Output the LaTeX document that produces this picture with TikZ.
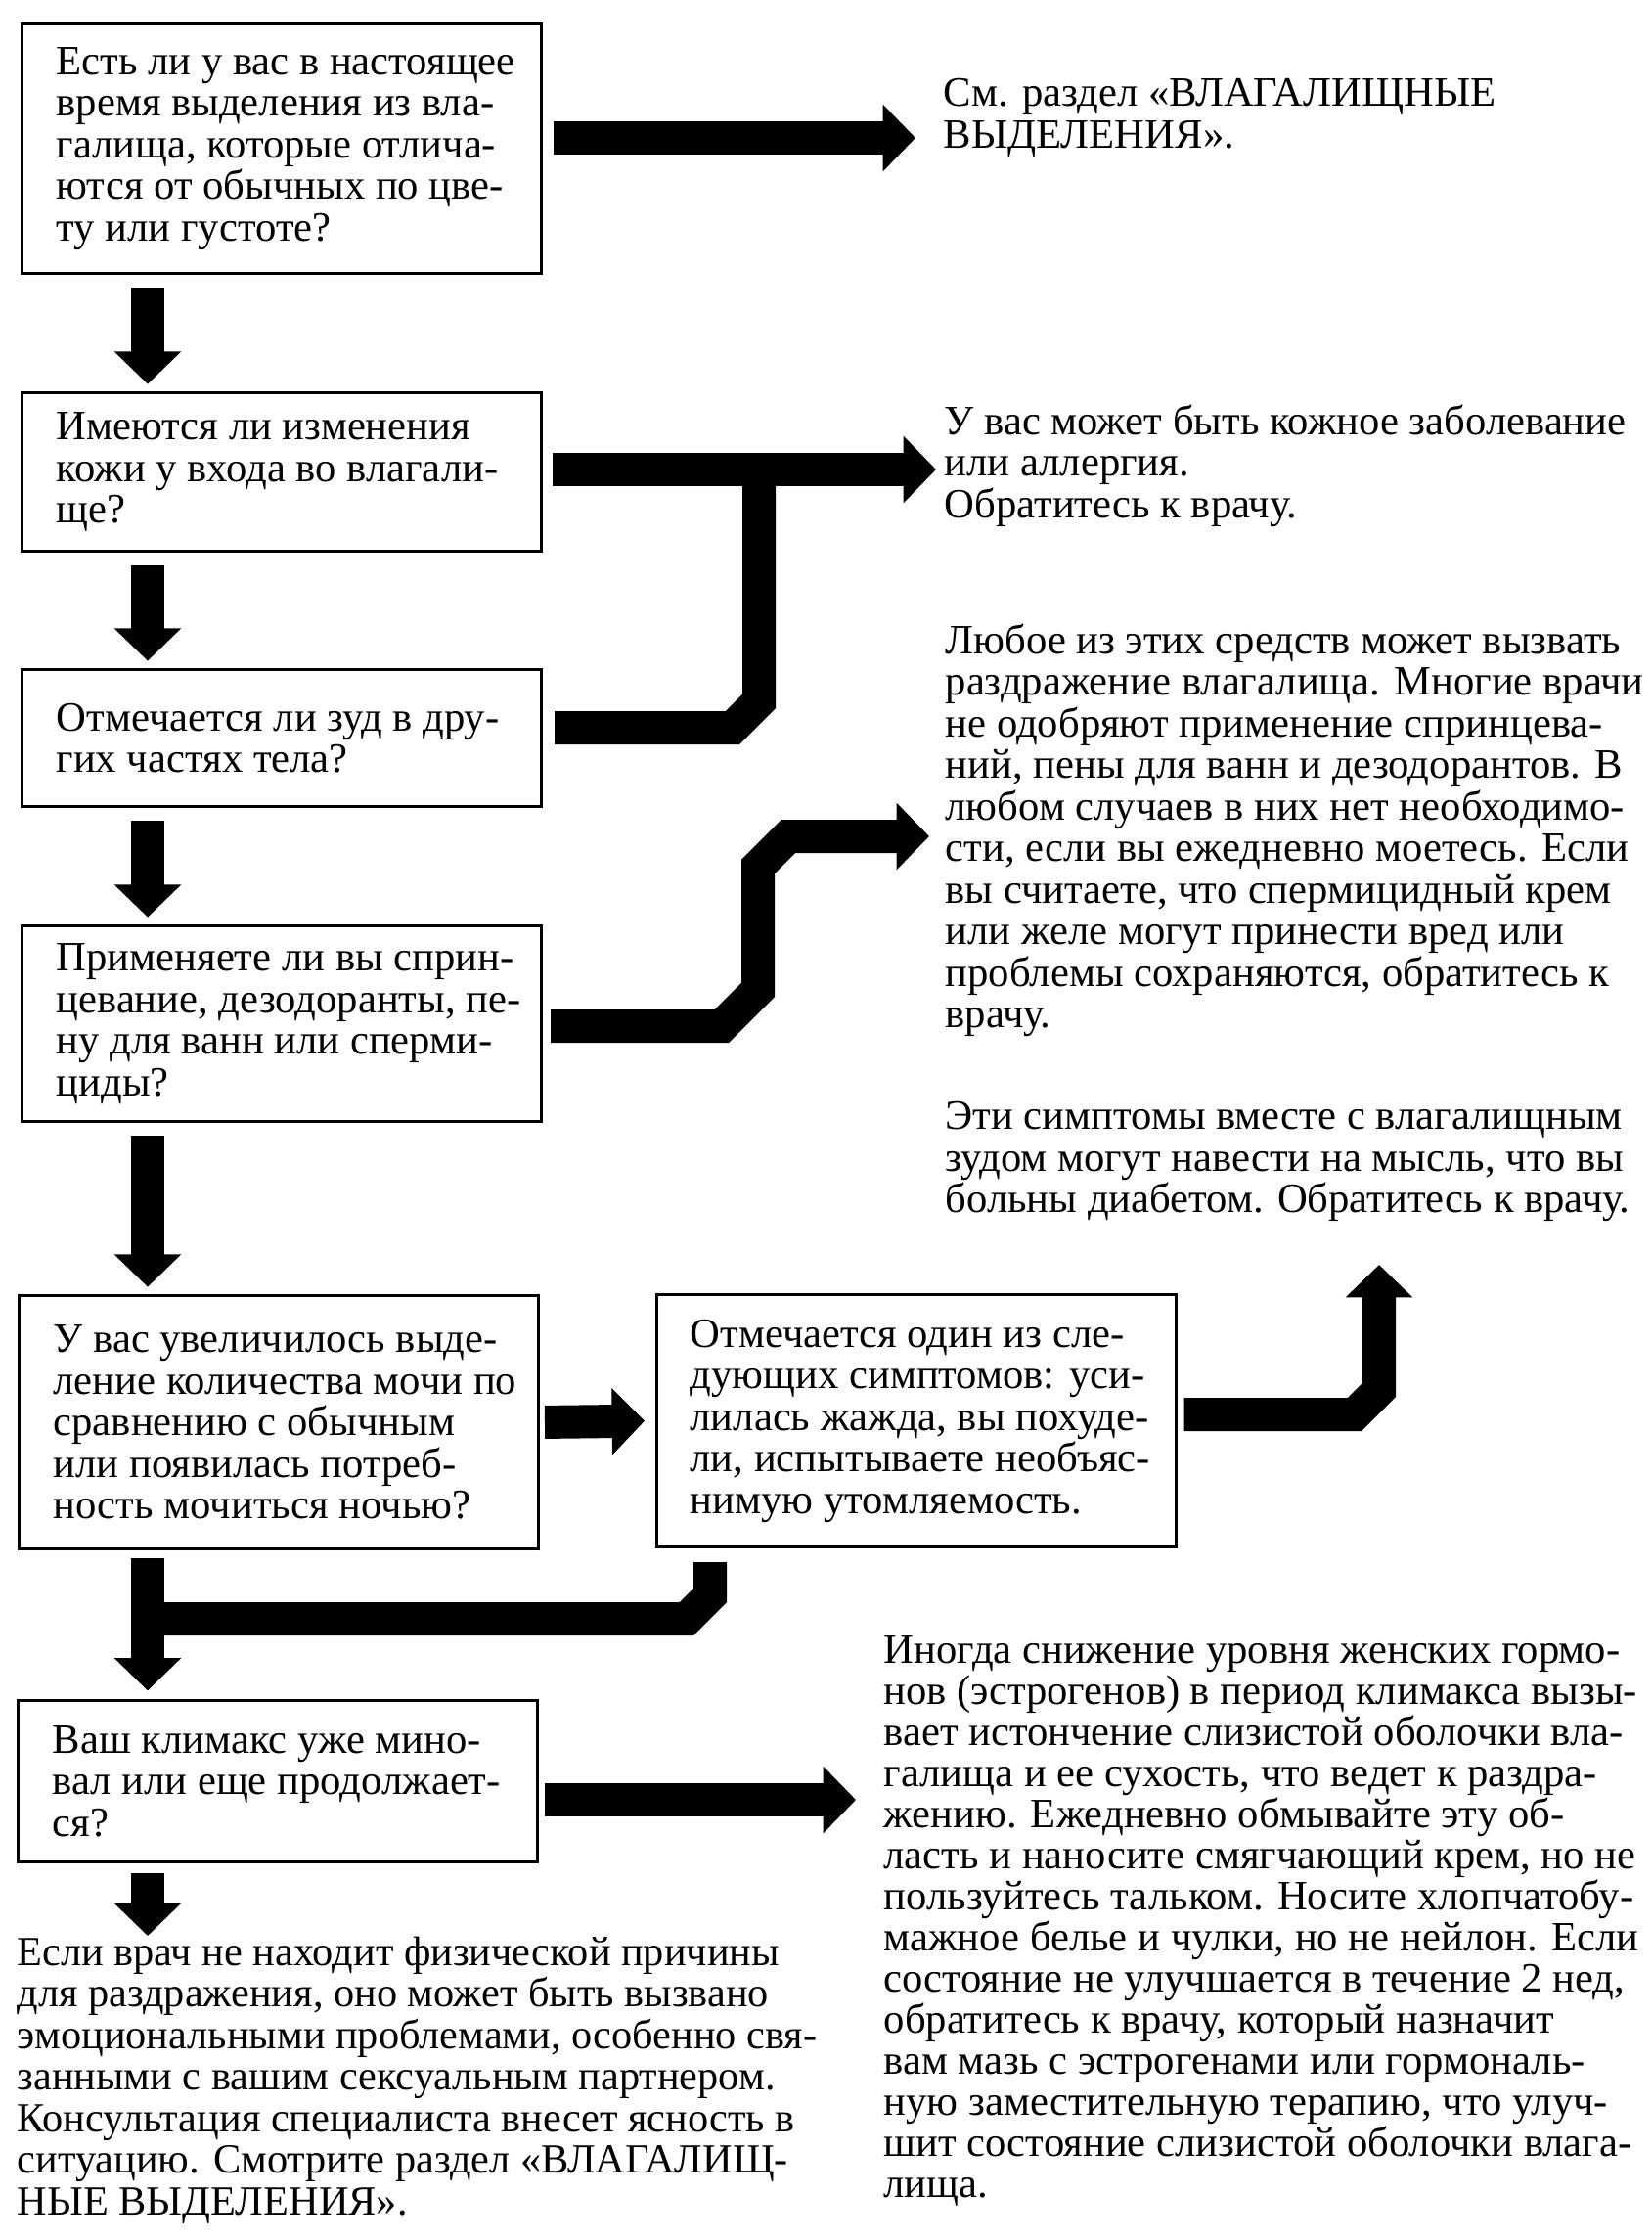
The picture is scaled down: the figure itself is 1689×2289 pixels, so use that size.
\documentclass[tikz,border=0pt]{standalone}
\usepackage{fontspec}
\setmainfont{Liberation Serif}
\usetikzlibrary{arrows.meta}

\newcommand{\qfont}{\fontsize{12.8}{12.75}\selectfont}
\newcommand{\emofont}{\fontsize{12.7}{12.75}\selectfont}
\newcommand{\menofont}{\fontsize{12.8}{12.6}\selectfont}

\tikzset{
  qframe/.style={draw, line width=0.9pt, anchor=north west, minimum width=159.3pt, inner sep=0pt},
  qtext/.style={anchor=west, inner sep=0pt, align=left, font=\qfont},
  note/.style={anchor=north west, inner sep=0pt, align=left, font=\qfont},
  fat/.style={line width=10.2pt, -{Triangle[width=20pt,length=10pt]}},
  fatline/.style={line width=10.2pt},
}

\begin{document}
\begin{tikzpicture}[x=0.3pt,y=-0.3pt]
\useasboundingbox (0,0) rectangle (1689,2289);

% question boxes
\node[qframe, minimum height=76.5pt] (q1) at (21,23) {};
\node[qtext] at ([xshift=10.8pt]q1.west) {Есть ли у вас в настоящее\\время выделения из вла-\\галища, которые отлича-\\ются от обычных по цве-\\ту или густоте?};

\node[qframe, minimum height=48.6pt] (q2) at (21,400) {};
\node[qtext] at ([xshift=10.8pt]q2.west) {Имеются ли изменения\\кожи у входа во влагали-\\ще?};

\node[qframe, minimum height=42pt] (q3) at (21,683) {};
\node[qtext] at ([xshift=10.8pt]q3.west) {Отмечается ли зуд в дру-\\гих частях тела?};

\node[qframe, minimum height=60pt] (q4) at (21,945) {};
\node[qtext] at ([xshift=10.8pt]q4.west) {Применяете ли вы сприн-\\цевание, дезодоранты, пе-\\ну для ванн или сперми-\\циды?};

\node[qframe, minimum height=77.7pt] (q5) at (18,1323) {};
\node[qtext] at ([xshift=10.8pt]q5.west) {У вас увеличилось выде-\\ление количества мочи по\\сравнению с обычным\\или появилась потреб-\\ность мочиться ночью?};

\node[qframe, minimum height=77.4pt] (q6) at (670,1322) {};
\node[qtext] at ([xshift=10.5pt]q6.west) {Отмечается один из сле-\\дующих симптомов: уси-\\лилась жажда, вы похуде-\\ли, испытываете необъяс-\\нимую утомляемость.};

\node[qframe, minimum height=49.5pt] (q7) at (17,1737) {};
\node[qtext] at ([xshift=10.8pt]q7.west) {Ваш климакс уже мино-\\вал или еще продолжает-\\ся?};

% answers
\node[note] (see) at (964,80) {См. раздел «ВЛАГАЛИЩНЫЕ\\ВЫДЕЛЕНИЯ».};
\node[note] (skin) at (965,413) {У вас может быть кожное заболевание\\или аллергия.\\Обратитесь к врачу.};
\node[note] (sprays) at (966,637) {Любое из этих средств может вызвать\\раздражение влагалища. Многие врачи\\не одобряют применение спринцева-\\ний, пены для ванн и дезодорантов. В\\любом случаев в них нет необходимо-\\сти, если вы ежедневно моетесь. Если\\вы считаете, что спермицидный крем\\или желе могут принести вред или\\проблемы сохраняются, обратитесь к\\врачу.};
\node[note] (diab) at (966,1126) {Эти симптомы вместе с влагалищным\\зудом могут навести на мысль, что вы\\больны диабетом. Обратитесь к врачу.};
\node[note, font=\menofont] (meno) at (903,1672) {Иногда снижение уровня женских гормо-\\нов (эстрогенов) в период климакса вызы-\\вает истончение слизистой оболочки вла-\\галища и ее сухость, что ведет к раздра-\\жению. Ежедневно обмывайте эту об-\\ласть и наносите смягчающий крем, но не\\пользуйтесь тальком. Носите хлопчатобу-\\мажное белье и чулки, но не нейлон. Если\\состояние не улучшается в течение 2 нед,\\обратитесь к врачу, который назначит\\вам мазь с эстрогенами или гормональ-\\ную заместительную терапию, что улуч-\\шит состояние слизистой оболочки влага-\\лища.};
\node[note, font=\emofont] (emo) at (17,1979) {Если врач не находит физической причины\\для раздражения, оно может быть вызвано\\эмоциональными проблемами, особенно свя-\\занными с вашим сексуальным партнером.\\Консультация специалиста внесет ясность в\\ситуацию. Смотрите раздел «ВЛАГАЛИЩ-\\НЫЕ ВЫДЕЛЕНИЯ».};

% arrow ends and bends
\coordinate (ax) at (151,0);
\coordinate (t1) at (936,141);
\coordinate (t2) at (957,480);
\coordinate (b3) at (749,744);
\coordinate (b4) at (738,1049);
\coordinate (t4) at (950,855);
\coordinate (c6) at (1385,1446);
\coordinate (t6) at (1410,1293);
\coordinate (d6) at (726,1631);
\coordinate (j5) at (151,1655);
\coordinate (t7) at (875,1840);

% down the left column
\draw[fat, shorten <=4pt, shorten >=2.2pt] (q1.south -| ax) -- (q2.north -| ax);
\draw[fat, shorten <=4pt, shorten >=2.2pt] (q2.south -| ax) -- (q3.north -| ax);
\draw[fat, shorten <=4pt, shorten >=2.2pt] (q3.south -| ax) -- (q4.north -| ax);
\draw[fat, shorten <=4pt, shorten >=2.2pt] (q4.south -| ax) -- (q5.north -| ax);
\draw[fat, shorten <=2.4pt, shorten >=2.6pt] (q5.south -| ax) -- (q7.north -| ax);
\draw[fat, shorten <=3pt] (q7.south -| ax) -- (emo.north -| ax);

% to the right
\draw[fat, shorten <=3.3pt] (q1.east |- t1) -- (t1);
\draw[fat, shorten <=3pt] (q2.east |- t2) -- (t2);
\draw[fatline, shorten <=3.6pt] (q3.east |- b3) -- (b3) -- (776,717) -- (776,480);
\draw[fat, shorten <=2.4pt] (q4.east |- b4) -- (b4) -- (775,1012) -- (775,886) -- (806,855) -- (t4);
\draw[fat, shorten <=1.5pt, shorten >=3.3pt] (q5.east) -- (q6.west);
\draw[fat, shorten <=2pt] (q6.east |- c6) -- (c6) -- (1410,1421) -- (t6);
\draw[fatline, shorten <=4.2pt] (q6.south -| d6) -- (d6) -- (702,1655) -- (j5);
\draw[fat, shorten <=1.8pt] (q7.east |- t7) -- (t7);
\end{tikzpicture}
\end{document}
